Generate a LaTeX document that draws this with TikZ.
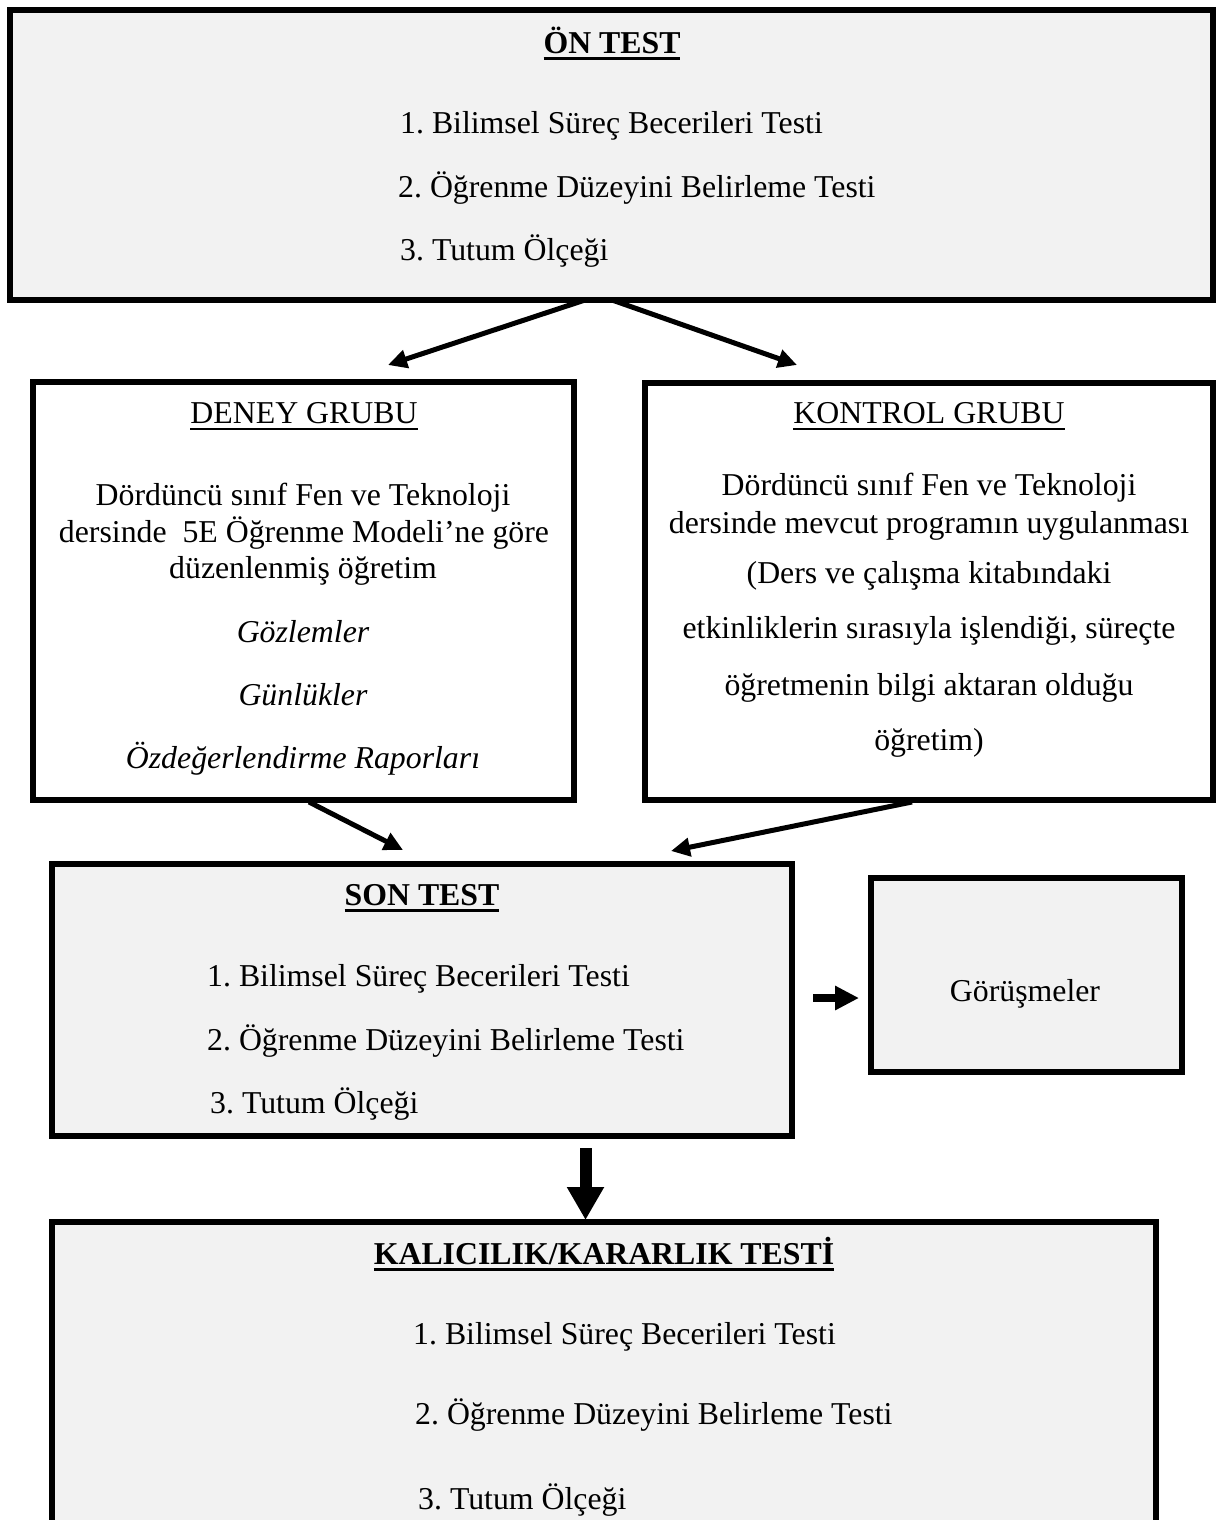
\documentclass[tikz,border=0pt]{standalone}
\usepackage{fontspec}
\setmainfont{Liberation Serif}
\usetikzlibrary{arrows.meta}
\frenchspacing
\definecolor{boxgray}{RGB}{242,242,242}
% underlined text: #1 = rule depth, #2 = rule thickness, #3 = text
\newcommand{\undertext}[3]{\setbox0=\hbox{#3}\rlap{\rule[-#1]{\wd0}{#2}}\box0}
\newcommand{\titletext}[1]{\undertext{7pt}{3pt}{\textbf{#1}}}
\newcommand{\headtext}[1]{\undertext{7pt}{2.2pt}{#1}}

\tikzset{
  panel/.style={draw, line width=6pt, fill=boxgray, inner sep=0pt, rectangle},
  whitepanel/.style={panel, fill=white},
  txt/.style={inner sep=0pt, anchor=base, font=\fontsize{31.8}{37}\selectfont},
  txtw/.style={txt, anchor=base west},
  conn/.style={line width=5pt, -{Triangle[length=19pt,width=18pt]}},
}

\begin{document}
\begin{tikzpicture}[x=1pt, y=-1pt]
\useasboundingbox (0,0) rectangle (1219,1520);

% boxes
\node[panel, minimum width=1203pt, minimum height=290pt] (on) at (611.5,155) {};
\node[whitepanel, minimum width=541pt, minimum height=418pt] (deney) at (303.5,591) {};
\node[whitepanel, minimum width=568pt, minimum height=417pt] (kontrol) at (929,591.5) {};
\node[panel, minimum width=740pt, minimum height=272pt] (son) at (422,1000) {};
\node[panel, minimum width=311pt, minimum height=194pt] (gorusme) at (1026.5,975) {};
\node[panel, minimum width=1104pt, minimum height=301pt] (kalici) at (604,1372.5) {};

% pre-test
\node[txt] (onT) at (612,53) {\titletext{ÖN TEST}};
\node[txtw] (on1) at (400,133) {1. Bilimsel Süreç Becerileri Testi};
\node[txtw] (on2) at (398,197) {2. Öğrenme Düzeyini Belirleme Testi};
\node[txtw] (on3) at (400,260) {3. Tutum Ölçeği};

% experimental group
\node[txt] (deT) at (304,423) {\headtext{DENEY GRUBU}};
\node[txt] (de1) at (303,505) {Dördüncü sınıf Fen ve Teknoloji};
\node[txt] (de2) at (304,542) {dersinde~ 5E Öğrenme Modeli’ne göre};
\node[txt] (de3) at (303,578) {düzenlenmiş öğretim};
\node[txt] (de4) at (303,642) {\itshape Gözlemler};
\node[txt] (de5) at (303,705) {\itshape Günlükler};
\node[txt] (de6) at (303,768) {\itshape Özdeğerlendirme Raporları};

% control group
\node[txt] (koT) at (929,423) {\headtext{KONTROL GRUBU}};
\node[txt] (ko1) at (929,495) {Dördüncü sınıf Fen ve Teknoloji};
\node[txt] (ko2) at (929,533) {dersinde mevcut programın uygulanması};
\node[txt] (ko3) at (929,583) {(Ders ve çalışma kitabındaki};
\node[txt] (ko4) at (929,638) {etkinliklerin sırasıyla işlendiği, süreçte};
\node[txt] (ko5) at (929,695) {öğretmenin bilgi aktaran olduğu};
\node[txt] (ko6) at (929,750) {öğretim)};

% post-test
\node[txt] (soT) at (422,905) {\titletext{SON TEST}};
\node[txtw] (so1) at (207,986) {1. Bilimsel Süreç Becerileri Testi};
\node[txtw] (so2) at (207,1050) {2. Öğrenme Düzeyini Belirleme Testi};
\node[txtw] (so3) at (210,1113) {3. Tutum Ölçeği};

% interviews
\node[txt] (goT) at (1025,1001) {Görüşmeler};

% retention test
\node[txt] (kaT) at (604,1264) {\titletext{KALICILIK/KARARLIK TESTİ}};
\node[txtw] (ka1) at (413,1344) {1. Bilimsel Süreç Becerileri Testi};
\node[txtw] (ka2) at (415,1424) {2. Öğrenme Düzeyini Belirleme Testi};
\node[txtw] (ka3) at (418,1509) {3. Tutum Ölçeği};

% connector end points
\coordinate (onL) at (585,300);
\coordinate (onR) at (612,300);
\coordinate (deIn) at (388,365);
\coordinate (koIn) at (797,365);
\coordinate (deOut) at (309,802);
\coordinate (koOut) at (912,802);
\coordinate (soInL) at (403,850);
\coordinate (soInR) at (671,851);
\coordinate (soOut) at (813,998);
\coordinate (goIn) at (859,998);
\coordinate (soDown) at (585.5,1148);
\coordinate (kaIn) at (585.5,1220);

% connectors
\draw[conn] (onL) -- (deIn);
\draw[conn] (onR) -- (koIn);
\draw[conn] (deOut) -- (soInL);
\draw[conn] (koOut) -- (soInR);
\draw[line width=8pt, -{Triangle[length=24pt,width=23pt]}] (soOut) -- (goIn);
\draw[line width=12pt, -{Triangle[length=33pt,width=35pt]}] (soDown) -- (kaIn);
\end{tikzpicture}
\end{document}
